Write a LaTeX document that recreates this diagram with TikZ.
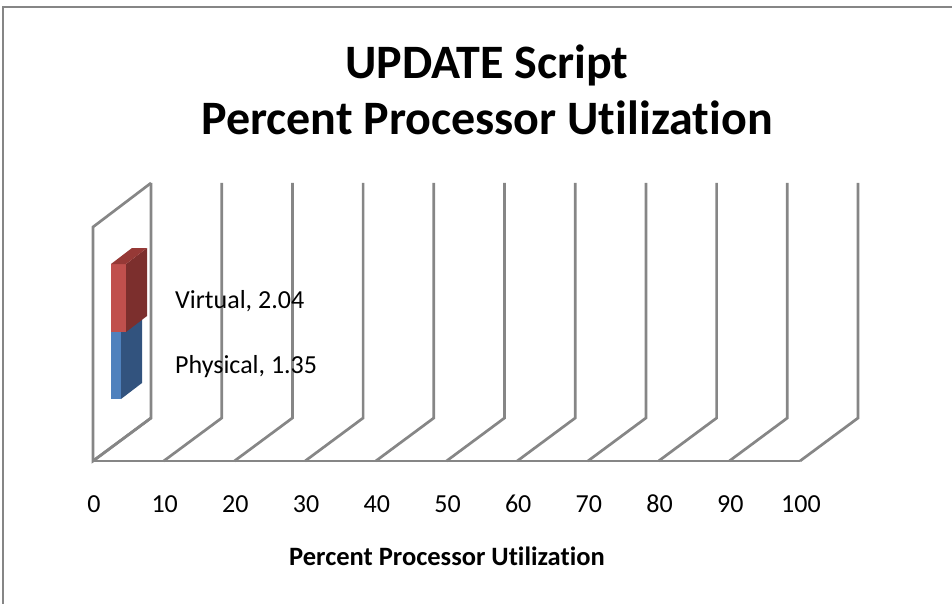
\documentclass[tikz,border=0pt]{standalone}
\usepackage{fontspec}
\setmainfont[Ligatures=NoCommon]{Carlito}
\usepackage{tikz}
\usetikzlibrary{positioning}
\usepackage{xcolor}
\definecolor{gridgray}{RGB}{134,134,134}
\definecolor{framegray}{RGB}{134,134,134}
\definecolor{virtfront}{RGB}{192,80,77}
\definecolor{virtside}{RGB}{124,47,45}
\definecolor{virttop}{RGB}{150,57,54}
\definecolor{physfront}{RGB}{79,129,189}
\definecolor{physside}{RGB}{50,83,126}
\tikzstyle{grid} = [line width=2.7pt,color=gridgray,line join=miter]
\tikzstyle{ticklabel} = [anchor=base,inner sep=0pt,font=\fontsize{26}{30}\selectfont]
\tikzstyle{datalabel} = [anchor=base west,inner sep=0pt,font=\fontsize{26}{30}\selectfont]

\begin{document}
\begin{tikzpicture}[x=1pt, y=-1pt]
\clip (0,0) rectangle (952,604);
% Chart frame
\draw[line width=2pt, framegray] (3,620) -- (3,7) -- (970,7);

% Title
\node[anchor=base, inner sep=0pt, font=\bfseries\fontsize{48}{56}\selectfont] (title) at (487,79) {UPDATE Script};
\node[anchor=base, inner sep=0pt, font=\bfseries\fontsize{48}{56}\selectfont] (subtitle) at (487,135) {Percent Processor Utilization};

% Walls and gridlines
\draw[grid] (151,418) -- (93,461) -- (93,227) -- (151,183);
\foreach \k in {0,...,10}
  \draw[grid] (151+70.7*\k,183) -- (151+70.7*\k,418) -- (93+70.7*\k,461);
\draw[grid] (93,461) -- (800,461);

% Tick labels
\foreach \k/\v in {0/0,1/10,2/20,3/30,4/40,5/50,6/60,7/70,8/80,9/90,10/100}
  \node[ticklabel] (tick\v) at (94+70.7*\k,512) {\v};
\node[anchor=base, inner sep=0pt, font=\bfseries\fontsize{26.5}{30}\selectfont] (xtitle) at (447,565) {Percent Processor Utilization};

% Physical bar
\fill[physfront] (111,332) rectangle (121,399);
\fill[physside] (121,399) -- (121,332) -- (142,316) -- (142,383) -- cycle;
% Virtual bar
\fill[virtfront] (111,264) rectangle (126,332);
\fill[virtside] (126,264) -- (147,248) -- (147,316) -- (126,332) -- cycle;
\fill[virttop] (111,264) -- (126,264) -- (147,248) -- (132,248) -- cycle;

% Data labels
\node[datalabel] (virtual) at (175,308) {Virtual, 2.04};
\node[datalabel] (physical) at (175,373) {Physical, 1.35};
\end{tikzpicture}
\end{document}
